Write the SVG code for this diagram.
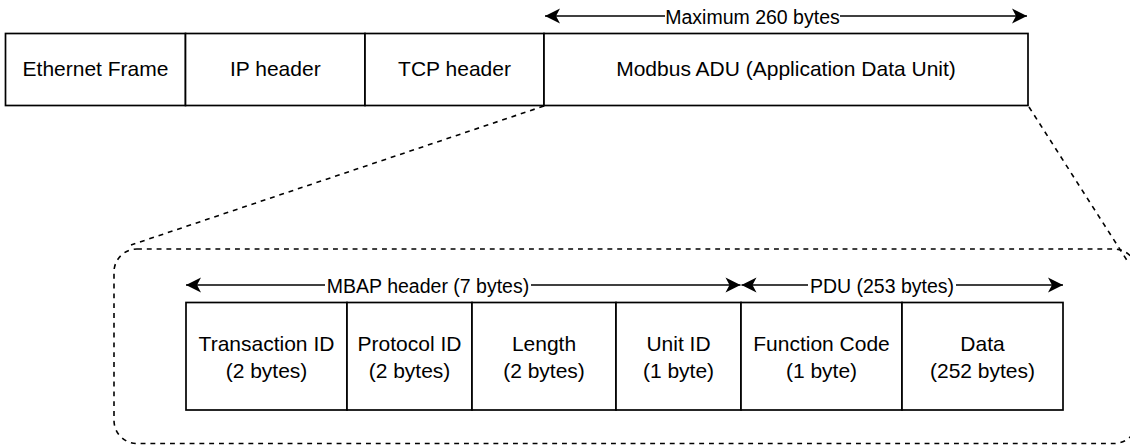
<svg xmlns="http://www.w3.org/2000/svg" width="1130" height="445" viewBox="0 0 1130 445">
  <style>
    .box { fill: #ffffff; stroke: #000000; stroke-width: 1.7; }
    .zoom { fill: none; stroke: #000000; stroke-width: 1.6; stroke-dasharray: 4.9 4.9; }
    .txt { font-family: "Liberation Sans", Arial, sans-serif; font-size: 21px; fill: #000000; text-anchor: middle; }
    .lbl { font-family: "Liberation Sans", Arial, sans-serif; font-size: 19.5px; fill: #000000; text-anchor: middle; }
    .dim { fill: none; stroke: #000000; stroke-width: 1.7; marker-start: url(#head-start); marker-end: url(#head-end); }
    .lblbg { fill: #ffffff; }
  </style>
  <defs>
    <marker id="head-end" markerUnits="userSpaceOnUse" markerWidth="16" markerHeight="16" refX="15" refY="7.5" orient="auto" overflow="visible">
      <path d="M0,0 L15,7.5 L0,15 L4,7.5 Z" fill="#000000"/>
    </marker>
    <marker id="head-start" markerUnits="userSpaceOnUse" markerWidth="16" markerHeight="16" refX="0" refY="7.5" orient="auto" overflow="visible">
      <path d="M15,0 L0,7.5 L15,15 L11,7.5 Z" fill="#000000"/>
    </marker>
  </defs>

  <rect width="1130" height="445" fill="#ffffff"/>

  <!-- Outer TCP/IP frame -->
  <g id="ethernet-frame">
    <rect class="box" x="5.5" y="33.5" width="180" height="72"/>
    <text class="txt" x="95.5" y="76">Ethernet Frame</text>
  </g>
  <g id="ip-header">
    <rect class="box" x="185.5" y="33.5" width="179.5" height="72"/>
    <text class="txt" x="275.3" y="76">IP header</text>
  </g>
  <g id="tcp-header">
    <rect class="box" x="365" y="33.5" width="179" height="72"/>
    <text class="txt" x="454.5" y="76">TCP header</text>
  </g>
  <g id="modbus-adu">
    <rect class="box" x="544" y="33.5" width="484" height="72"/>
    <text class="txt" x="786" y="76">Modbus ADU (Application Data Unit)</text>
  </g>

  <!-- Expanded ADU detail -->
  <g id="adu-detail">
    <rect class="zoom" x="114" y="249" width="1023" height="194.5" rx="23" ry="23"/>
  </g>
  <g id="transaction-id">
    <rect class="box" x="186" y="302.5" width="161" height="107.5"/>
    <text class="txt" x="266.5" y="350.7">Transaction ID</text>
    <text class="txt" x="266.5" y="378">(2 bytes)</text>
  </g>
  <g id="protocol-id">
    <rect class="box" x="347" y="302.5" width="125" height="107.5"/>
    <text class="txt" x="409.5" y="350.7">Protocol ID</text>
    <text class="txt" x="409.5" y="378">(2 bytes)</text>
  </g>
  <g id="length">
    <rect class="box" x="472" y="302.5" width="144" height="107.5"/>
    <text class="txt" x="544" y="350.7">Length</text>
    <text class="txt" x="544" y="378">(2 bytes)</text>
  </g>
  <g id="unit-id">
    <rect class="box" x="616" y="302.5" width="125" height="107.5"/>
    <text class="txt" x="678.5" y="350.7">Unit ID</text>
    <text class="txt" x="678.5" y="378">(1 byte)</text>
  </g>
  <g id="function-code">
    <rect class="box" x="741" y="302.5" width="161" height="107.5"/>
    <text class="txt" x="821.5" y="350.7">Function Code</text>
    <text class="txt" x="821.5" y="378">(1 byte)</text>
  </g>
  <g id="data">
    <rect class="box" x="902" y="302.5" width="161" height="107.5"/>
    <text class="txt" x="982.5" y="350.7">Data</text>
    <text class="txt" x="982.5" y="378">(252 bytes)</text>
  </g>

  <!-- Connectors: zoom lines and dimension arrows -->
  <g id="connectors">
    <line class="zoom" x1="544" y1="106" x2="131" y2="245"/>
    <line class="zoom" x1="1029" y1="107" x2="1128" y2="262"/>

    <line class="dim" x1="545" y1="16" x2="1027" y2="16"/>
    <rect class="lblbg" x="665" y="5" width="175" height="22"/>
    <text class="lbl" x="752.5" y="23.5">Maximum 260 bytes</text>

    <line class="dim" x1="186" y1="285" x2="740.5" y2="285"/>
    <rect class="lblbg" x="325" y="274" width="206" height="22"/>
    <text class="lbl" x="428" y="292.5">MBAP header (7 bytes)</text>

    <line class="dim" x1="741.5" y1="285" x2="1063" y2="285"/>
    <rect class="lblbg" x="808" y="274" width="148" height="22"/>
    <text class="lbl" x="882" y="292.5">PDU (253 bytes)</text>
  </g>
</svg>
